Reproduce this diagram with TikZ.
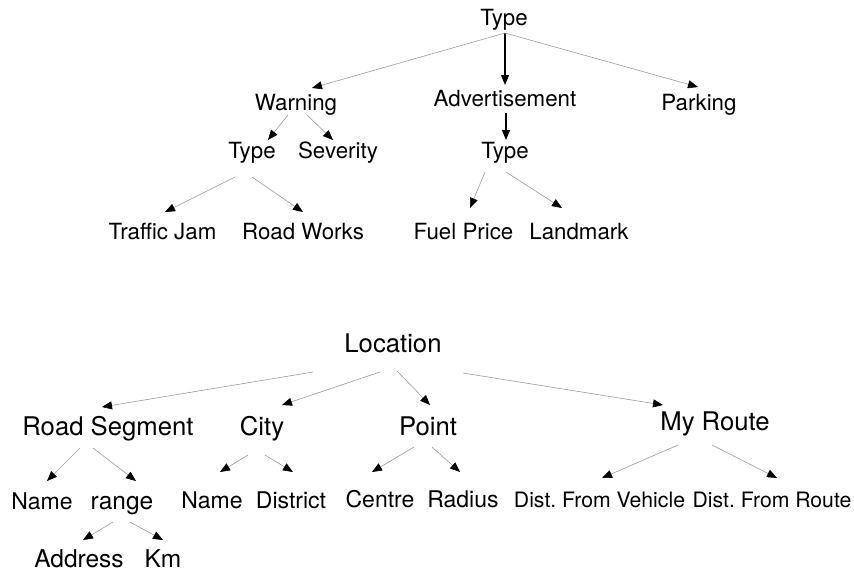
\documentclass[tikz,border=0pt]{standalone}
\usepackage{fontspec}
\setmainfont{TeX Gyre Heros}
\usepackage{tikz}
\usetikzlibrary{arrows.meta}
\definecolor{EdgeGray}{HTML}{9A9A9A}
\frenchspacing

\begin{document}
\begin{tikzpicture}[x=1pt,y=-1pt,
    lbl/.style={anchor=base,inner sep=0pt,font=\fontsize{22.3}{26}\selectfont},
    headlbl/.style={lbl,font=\fontsize{25.7}{30}\selectfont},
    biglbl/.style={lbl,font=\fontsize{24.5}{29}\selectfont},
    leaflbl/.style={lbl,font=\fontsize{23}{27}\selectfont},
    smalllbl/.style={lbl,font=\fontsize{21.2}{25}\selectfont},
    edge/.style={EdgeGray,line width=0.6pt,-{Triangle[length=10pt,width=8pt,color=black]}},
    mainedge/.style={black,line width=1.2pt,-{Triangle[length=10pt,width=8pt]}}]
    \useasboundingbox (0,0) rectangle (854,574);

    % message type tree
    \node[lbl] (type) at (504,25) {Type};
    \node[lbl] (warn) at (296,110) {Warning};
    \node[lbl] (adv) at (505,106) {Advertisement};
    \node[lbl] (park) at (699,110) {Parking};
    \node[lbl] (wtype) at (252,158) {Type};
    \node[lbl] (sev) at (338,158) {Severity};
    \node[lbl] (atype) at (505,158) {Type};
    \node[lbl] (jam) at (162.5,239) {Traffic Jam};
    \node[lbl] (works) at (303,239) {Road Works};
    \node[lbl] (fuel) at (463.5,239) {Fuel Price};
    \node[lbl] (land) at (579,239) {Landmark};

    \draw[mainedge] ([shift={(1,8)}]type.base) -- ([shift={(0,-21)}]adv.base);
    \draw[mainedge] ([shift={(1,7)}]adv.base) -- ([shift={(1,-18)}]atype.base);
    \foreach \a/\ax/\ay/\b/\bx/\by in {
        type/1/8/warn/16/-22, type/1/8/park/-1/-23,
        warn/-8/5/wtype/16/-18, warn/11/5/sev/-5/-18,
        wtype/-17/19/jam/2.5/-27, wtype/0/19/works/0/-27,
        atype/-20/14/fuel/6.5/-31, atype/1/14/land/-17/-31} {
      \draw[edge] ([shift={(\ax,\ay)}]\a.base) -- ([shift={(\bx,\by)}]\b.base);
    }

    % location tree
    \node[headlbl] (loc) at (393,352) {Location};
    \node[headlbl] (seg) at (108,435) {Road Segment};
    \node[headlbl] (city) at (262,435) {City};
    \node[headlbl] (point) at (428,435) {Point};
    \node[headlbl] (route) at (715,430) {My Route};
    \node[leaflbl] (sname) at (42,509) {Name};
    \node[biglbl] (range) at (122,509) {range};
    \node[leaflbl] (cname) at (212,508) {Name};
    \node[leaflbl] (dist) at (291,508) {District};
    \node[leaflbl] (centre) at (380,507) {Centre};
    \node[leaflbl] (radius) at (463,507) {Radius};
    \node[smalllbl] (dveh) at (599.5,507) {Dist. From Vehicle};
    \node[smalllbl] (droute) at (772,507) {Dist. From Route};
    \node[biglbl] (addr) at (79,567) {Address};
    \node[biglbl] (km) at (163,567) {Km};

    \foreach \a/\ax/\ay/\b/\bx/\by in {
        loc/-80/20/seg/-6/-28, loc/-13/20/city/20/-30,
        loc/4/19/point/2/-30, loc/70/21/route/-52/-25,
        seg/-28/13/sname/5/-28, seg/-15/13/range/14/-28,
        range/-9/13/addr/4/-27, range/8/13/km/0/-27,
        city/-14/20/cname/8/-36, city/3/20/dist/2/-36,
        point/-14/12/centre/-8/-35, point/4/12/radius/-3/-35,
        route/-37/15/dveh/2.5/-29, route/-3/15/droute/5/-29} {
      \draw[edge] ([shift={(\ax,\ay)}]\a.base) -- ([shift={(\bx,\by)}]\b.base);
    }
\end{tikzpicture}
\end{document}
